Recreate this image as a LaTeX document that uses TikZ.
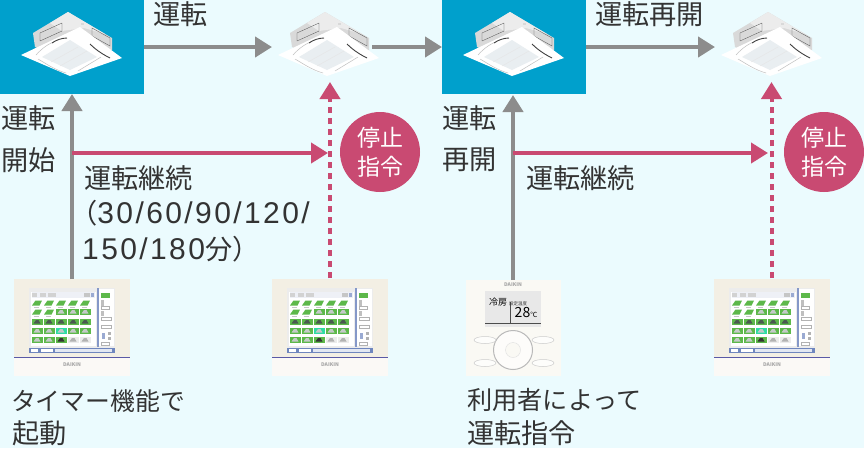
\documentclass[tikz,border=0pt]{standalone}
\usepackage{fontspec}
\setmainfont{Noto Sans CJK JP}
\newfontfamily\dg{Liberation Sans}[LetterSpace=8]
\usetikzlibrary{arrows.meta}
\definecolor{bgc}{HTML}{EBFBFE}
\definecolor{boxc}{HTML}{00A0CC}
\definecolor{greyc}{HTML}{8C8C8C}
\definecolor{pinkc}{HTML}{C94A72}
\definecolor{txtc}{HTML}{333333}
\definecolor{panelc}{HTML}{F3EFE4}
\definecolor{greenc}{HTML}{5DB84A}
\definecolor{cellg}{HTML}{C4CAC8}
\definecolor{celld}{HTML}{4A5A50}
\definecolor{screenc}{HTML}{EEF0F6}
\definecolor{barc}{HTML}{6F86BE}
\definecolor{grillec}{HTML}{E9EEF1}
\newcommand{\fs}[1]{\fontsize{#1pt}{#1pt}\selectfont}
% green tile with a grey or dark unit on it: column, row centre, inner colour, tile colour
\newcommand{\tile}[4]{%
  \fill[#4] ({#1-5.5},{#2-3.5}) rectangle ({#1+5.5},{#2+3});
  \fill[#3] ({#1-3.5},{#2+1.5}) -- ({#1-1},{#2-2}) -- ({#1+1.5},{#2-2}) -- ({#1+3.5},{#2+1.5}) -- cycle;
}
\newcommand{\leaf}[2]{%
  \fill[greenc] ({#1-5},{#2+2.5}) -- ({#1-1.5},{#2-2.5}) -- ({#1+5},{#2-2.5}) -- ({#1+2.5},{#2+2.5}) -- cycle;
  \fill[gray!45!white] ({#1-3},{#2+4}) rectangle ({#1+2},{#2+5});
}
\tikzset{
  x=1pt,y=-1pt,
  grayarrow/.style={draw=greyc,line width=4.3pt,-{Triangle[length=17pt,width=20pt]}},
  pinkarrow/.style={draw=pinkc,line width=4pt,-{Triangle[length=17pt,width=20pt]}},
  pinkdash/.style={draw=pinkc,line width=4pt,dash pattern=on 6pt off 5pt,-{Triangle[length=17pt,width=20pt,sep=0pt]}},
  lbl/.style={text=txtc,inner sep=0pt,anchor=west,font=\fs{27.2}},
  numlbl/.style={text=txtc,inner sep=0pt,anchor=base west,font=\fs{27.2}},
  stopc/.style={circle,fill=pinkc,text=white,minimum size=80pt,inner sep=0pt,align=center,font=\fontsize{23pt}{29pt}\selectfont},
  bluebox/.style={fill=boxc,draw=none,inner sep=0pt,minimum width=144pt,minimum height=94pt,anchor=north west},
  cassette/.pic={
    \fill[gray!30!white] (33,33) -- (68,12) -- (112,38) -- (112,50) -- (70,64) -- (35,47) -- cycle;
    \fill[gray!15!white] (50,23) -- (68,12) -- (105,34) -- (84,28) -- (62,31) -- cycle;
    \draw[gray!60!black,line width=.3pt] (40,33) -- (62,23) -- (62,31) -- (40,41) -- cycle;
    \draw[gray!60!black,line width=.3pt] (92,28) -- (110,38) -- (110,46) -- (92,36) -- cycle;
    \fill[white] (21,55) -- (80,27) -- (122,58) -- (70,76) -- cycle;
    \fill[grillec] (42,57) -- (70,40) -- (97,57) -- (70,70) -- cycle;
    \draw[gray!20!white,line width=.4pt] (51,62) -- (78,47) (60,66) -- (87,51);
    \draw[gray!50!white,line width=.5pt] (36,55) .. controls (42,48) and (50,43) .. (54,42);
    \draw[gray!50!white,line width=.5pt] (38,59) .. controls (45,63) and (55,70) .. (66,73);
    \draw[gray!50!white,line width=.5pt] (101,57) -- (78,71);
    \draw[black!75!white,line width=.9pt] (52,43) .. controls (56,40) and (62,38) .. (67,38);
    \draw[black!75!white,line width=.9pt] (90,44) .. controls (94,48) and (100,53) .. (110,58);
    \fill[gray!30!white] (81,23) rectangle (84,25);
  },
  touchpanel/.pic={
    \fill[panelc] (14,279) rectangle (130,376);
    \fill[white!65!panelc] (14,358) rectangle (130,376);
    \fill[gray!70!blue] (14,356.5) rectangle (130,358);
    \fill[white!85!gray] (29,288) rectangle (115,353);
    \fill[white] (31,292) rectangle (96,346);
    \fill[screenc] (32,292) rectangle (95,298);
    \fill[gray!35!white] (32,293) rectangle (37,297);
    \fill[gray!35!white] (40,293) rectangle (46,297);
    \fill[gray!35!white] (48,293) rectangle (56,297);
    \fill[gray!45!white] (84,293) rectangle (90,297);
    \fill[barc!70!white] (91,293) rectangle (94,297);
    \fill[barc!85!white] (97,288) rectangle (99,347);
    \fill[white] (99,289) rectangle (114,346);
    \fill[barc] (29,347.5) rectangle (115,353);
    \fill[white!80!barc] (55,349) rectangle (112,352);
    \fill[white] (31,349) rectangle (38,352);
    \fill[white] (41,349) rectangle (53,352);
    \foreach \c in {37,49,61,73,85}{\leaf{\c}{303}}
    \leaf{37}{312}\leaf{49}{312}
    \foreach \c in {61,73,85}{\tile{\c}{312}{cellg}{greenc}}
    \foreach \c in {37,49,61,73,85}{\tile{\c}{322}{celld}{greenc}}
    \foreach \c in {37,49,73,85}{\tile{\c}{331}{cellg}{greenc}}
    \tile{61}{331}{cellg}{greenc!50!cyan}
    \foreach \c in {37,49}{\tile{\c}{340}{cellg}{greenc}}
    \tile{61}{340}{black!80!white}{greenc}
    \foreach \c in {73,85}{\tile{\c}{340}{gray!60!white}{gray!15!white}}
    \fill[greenc] (101,293) rectangle (110,298);
    \fill[gray!50!white] (101,300) rectangle (104,306);
    \draw[gray!60!white,line width=.5pt] (101,306.5) rectangle (109,309);
    \fill[gray!50!white] (101,311) rectangle (104,316);
    \draw[gray!60!white,line width=.5pt] (101,317) rectangle (111,320);
    \draw[gray!60!white,line width=.5pt] (101,325) rectangle (111,328);
    \fill[gray!60!white] (108,332) rectangle (111,335);
    \fill[gray!60!white] (108,337) rectangle (111,340);
    \fill[barc!70!white] (102,333) rectangle (105,339);
    \draw[gray!60!white,line width=.5pt] (101,342) rectangle (109,345);
    \node[inner sep=0pt,text=gray!70!white,font=\bfseries\fs{5}] (-logo) at (72,365) {DAIKIN};
  },
}
\begin{document}
\begin{tikzpicture}
\useasboundingbox (0,0) rectangle (864,448);
\fill[bgc] (0,0) rectangle (864,448);

% blue boxes
\node[bluebox] (box1) at (0,0) {};
\node[bluebox] (box2) at (442,0) {};

% indoor units
\pic at (0,0) {cassette};
\pic at (257,0) {cassette};
\pic at (442,0) {cassette};
\pic at (700,0) {cassette};
\coordinate (unitA) at (272,47);
\coordinate (unitAout) at (372,47);
\coordinate (unitAbot) at (330,82);
\coordinate (unitB) at (715,47);
\coordinate (unitBbot) at (771.5,82);

% controllers
\pic (pA) at (0,0) {touchpanel};
\pic (pB) at (258,0) {touchpanel};
\pic (pC) at (700,0) {touchpanel};
\fill[white!60!panelc] (466,280) rectangle (561,376);
\fill[gray!18!white] (485,291) rectangle (541,327);
\draw[gray!60!black,line width=.4pt] (485,323) -- (541,323) (510,302) -- (510,323);
\node[inner sep=0pt,text=gray!70!white,font=\bfseries\fs{5}] (rlogo) at (513,285) {DAIKIN};
\node[inner sep=0pt,text=black,font=\fs{9}] (rcool) at (498,302) {冷房};
\node[inner sep=0pt,text=black!80!white,font=\fs{4.5}] (rset) at (518,304) {設定温度};
\node[inner sep=0pt,text=black,anchor=base] (rtemp) at (526,317) {{\fs{14}28}{\fs{7}℃}};
\draw[gray!55!white,line width=1pt,fill=white!80!panelc] (513,350) circle (19.5);
\draw[gray!25!white,fill=white!60!panelc] (513,350) circle (7.5);
\foreach \px/\py in {485/340,543/340,485/363,543/363}{
  \draw[gray!40!white,fill=white!85!panelc,line width=.5pt] (\px,\py) ellipse (11 and 3.5);
}

% anchors of connectors
\coordinate (boxRight) at (144,47);
\coordinate (box1bot) at (72,94);
\coordinate (box2left) at (442,47);
\coordinate (box2right) at (586,47);
\coordinate (box2bot) at (513,95);
\coordinate (ctl1) at (72,279);
\coordinate (ctl2) at (330,278);
\coordinate (ctl3) at (513,280);
\coordinate (ctl4) at (771.5,278);
\coordinate (trunk1) at (72,153);
\coordinate (trunk2) at (513,153);
\coordinate (stopA) at (328,153);
\coordinate (stopB) at (768,153);

% connectors
\draw[grayarrow] (boxRight) -- (unitA);
\draw[grayarrow] (unitAout) -- (box2left);
\draw[grayarrow] (box2right) -- (unitB);
\draw[grayarrow] (ctl1) -- (box1bot);
\draw[grayarrow] (ctl3) -- (box2bot);
\draw[pinkarrow] (trunk1) -- (stopA);
\draw[pinkarrow] (trunk2) -- (stopB);
\draw[pinkdash] (ctl2) -- (unitAbot);
\draw[pinkdash] (ctl4) -- (unitBbot);

% stop circles
\node[stopc] (stop1) at (380,152) {停止\\指令};
\node[stopc] (stop2) at (824,152) {停止\\指令};

% labels
\node[lbl] (t1) at (153,14) {運転};
\node[lbl] (t2) at (595,14) {運転再開};
\node[lbl] (t3) at (1,118) {運転};
\node[lbl] (t4) at (1,160) {開始};
\node[lbl] (t5) at (442,118) {運転};
\node[lbl] (t6) at (442,160) {再開};
\node[lbl] (t7) at (84,178) {運転継続};
\node[numlbl] (t8) at (70,223) {（{\dg\fontsize{30pt}{30pt}\selectfont 30/60/90/120/}};
\node[numlbl] (t9) at (82,259) {{\dg\fontsize{30pt}{30pt}\selectfont 150/180}分）};
\node[lbl] (t10) at (526,178) {運転継続};
\node[lbl,font=\fs{24.8}] (t11) at (11,401) {タイマー機能で};
\node[lbl] (t12) at (12,433) {起動};
\node[lbl,font=\fs{25.2}] (t13) at (467,400) {利用者によって};
\node[lbl] (t14) at (467,433) {運転指令};
\end{tikzpicture}
\end{document}
